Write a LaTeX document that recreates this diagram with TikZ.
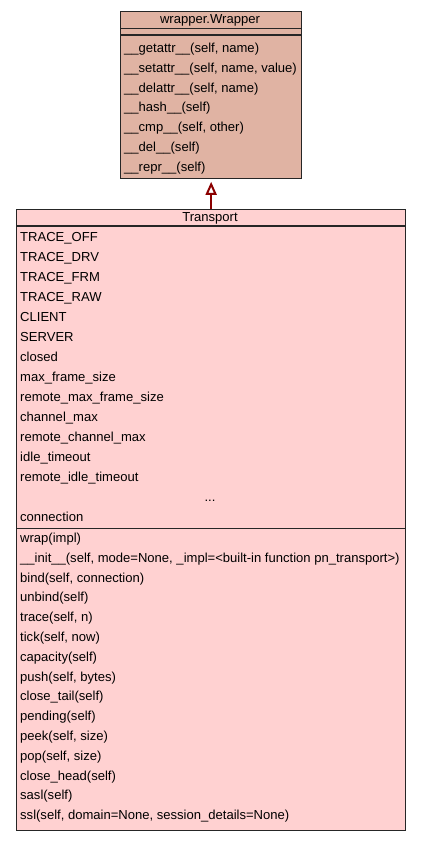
\documentclass[tikz,border=0pt]{standalone}
\usepackage{fontspec}
\setmainfont{Liberation Sans}
\usetikzlibrary{arrows.meta}
\definecolor{wrapfill}{RGB}{224,179,163}
\definecolor{transfill}{RGB}{255,209,209}
\definecolor{inhred}{RGB}{139,0,0}
\begin{document}
\begin{tikzpicture}[x=1pt,y=-1pt,
  classbox/.style={draw=black!85, line width=1.3pt, anchor=north west, inner sep=0pt},
  sepline/.style={draw=black!85, line width=1.3pt},
  txt/.style={anchor=base west, inner sep=0pt, font=\fontsize{13.05}{15}\selectfont},
  ctxt/.style={anchor=base, inner sep=0pt, font=\fontsize{13.05}{15}\selectfont},
  inherit/.style={draw=inhred, line width=2pt, -{Triangle[open, length=13pt, width=11pt, line width=2pt]}, shorten >=2.5pt}]
\useasboundingbox (0,0) rectangle (421,841);
% wrapper.Wrapper
\node[classbox, fill=wrapfill, minimum width=181pt, minimum height=167.5pt] (wrapper) at (120,10.5) {};
\draw[sepline] (wrapper.west |- 0,28.3) -- (wrapper.east |- 0,28.3);
\draw[sepline] (wrapper.west |- 0,35) -- (wrapper.east |- 0,35);
\node[ctxt] (wtitle) at (210,23.5) {wrapper.Wrapper};
\foreach \t [count=\i from 0] in {{\_\_getattr\_\_(self, name)},{\_\_setattr\_\_(self, name, value)},{\_\_delattr\_\_(self, name)},\_\_hash\_\_(self),{\_\_cmp\_\_(self, other)},\_\_del\_\_(self),\_\_repr\_\_(self)}
  \node[txt] (wm\i) at (124,52.5+19.75*\i) {\t};
% Transport
\node[classbox, fill=transfill, minimum width=389pt, minimum height=621.5pt] (transport) at (16,208.5) {};
\draw[sepline] (transport.west |- 0,226) -- (transport.east |- 0,226);
\draw[sepline] (transport.west |- 0,528.3) -- (transport.east |- 0,528.3);
\node[ctxt] (ttitle) at (210,221.5) {Transport};
\foreach \t [count=\i from 0] in {TRACE\_OFF,TRACE\_DRV,TRACE\_FRM,TRACE\_RAW,CLIENT,SERVER,closed,max\_frame\_size,remote\_max\_frame\_size,channel\_max,remote\_channel\_max,idle\_timeout,remote\_idle\_timeout}
  \node[txt] (ta\i) at (20,241+20*\i) {\t};
\node[ctxt] (tdots) at (210,501) {...};
\node[txt] (tconn) at (20,521) {connection};
\foreach \t [count=\i from 0] in {wrap(impl),{\_\_init\_\_(self, mode=None, \_impl=<built-in function pn\_transport>)},{bind(self, connection)},unbind(self),{trace(self, n)},{tick(self, now)},capacity(self),{push(self, bytes)},close\_tail(self),pending(self),{peek(self, size)},{pop(self, size)},close\_head(self),sasl(self),{ssl(self, domain=None, session\_details=None)}}
  \node[txt] (tm\i) at (20,542.5+19.8*\i) {\t};
% inheritance
\draw[inherit] (transport.north -| wrapper.south) -- (wrapper.south);
\end{tikzpicture}
\end{document}
